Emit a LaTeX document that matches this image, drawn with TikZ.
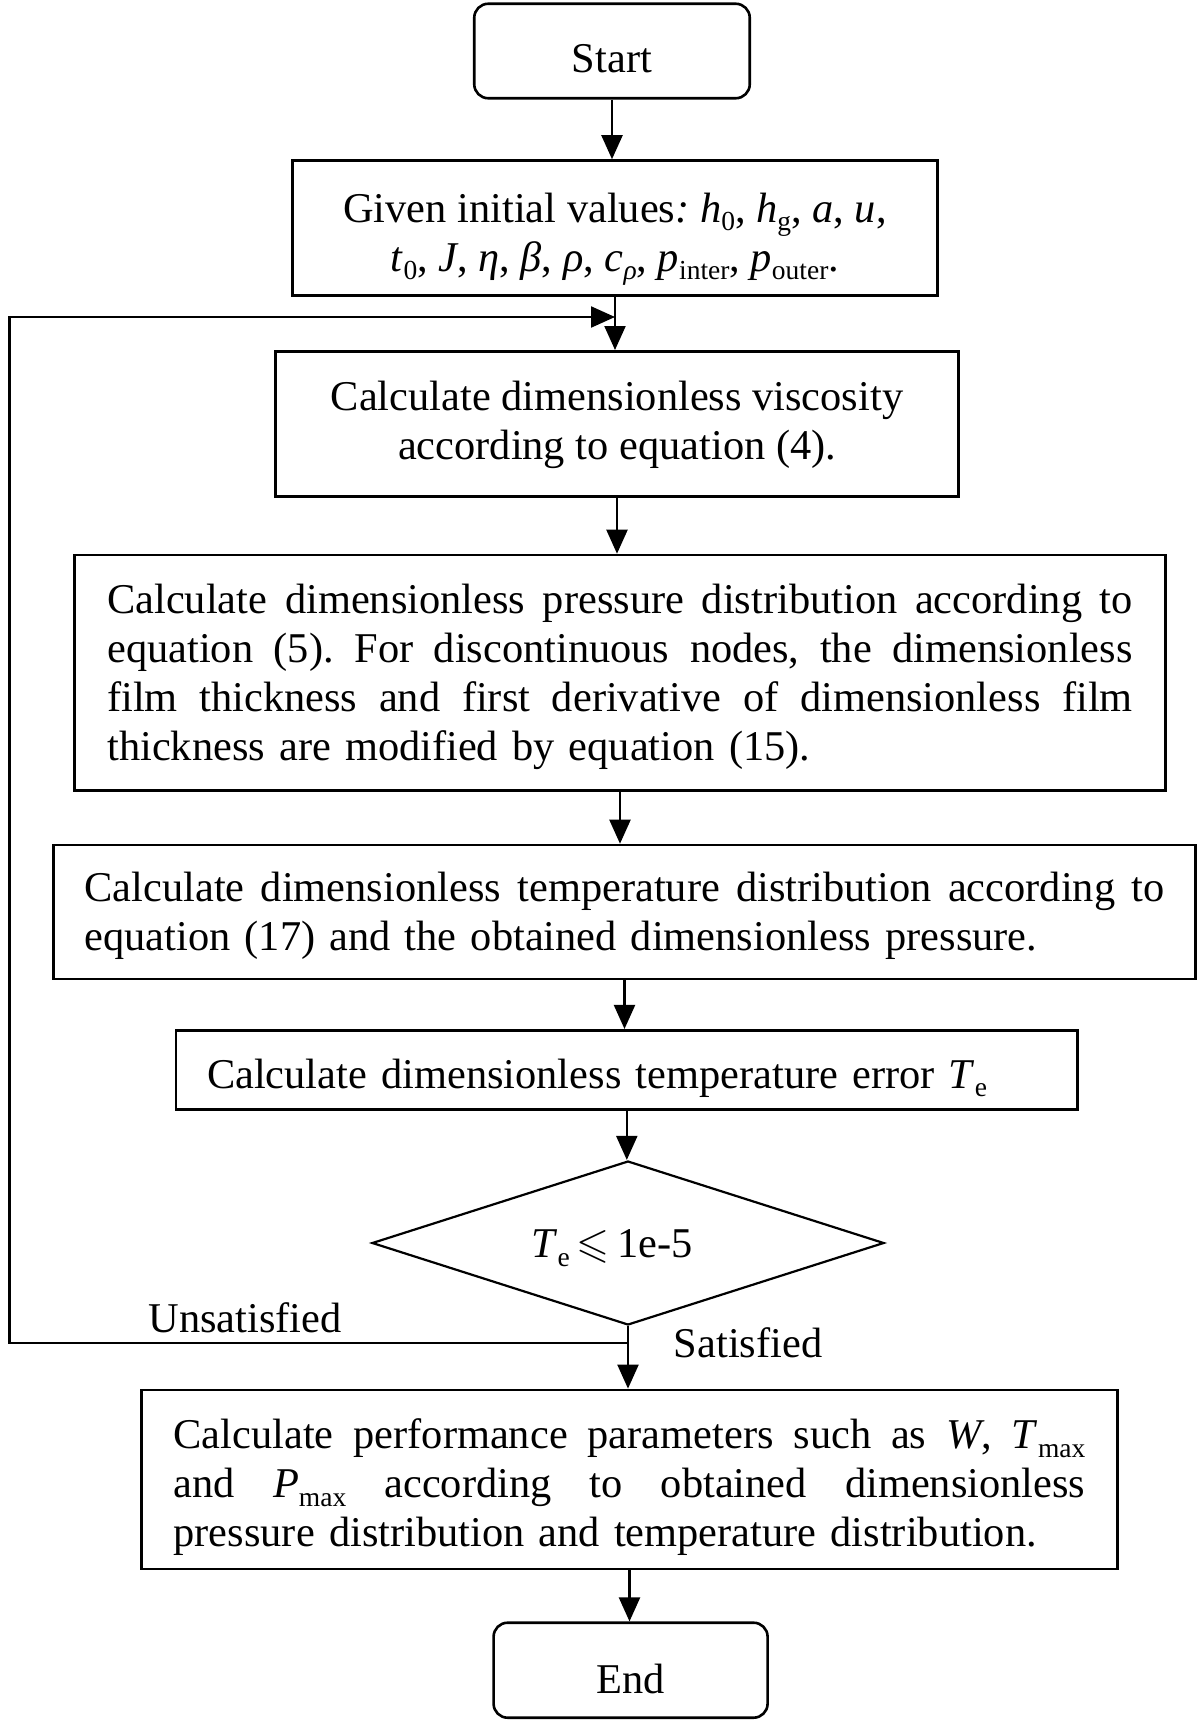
\documentclass[tikz,border=0pt]{standalone}
\usepackage{fontspec}
\setmainfont{Liberation Serif}
\usepackage{amssymb}
\usepackage{graphicx}
\usetikzlibrary{arrows.meta,shapes.geometric}
\newcommand{\sbs}[1]{\raisebox{-0.2em}{\fontsize{27.5}{30}\selectfont #1}}
\newcommand{\jl}[2]{{\spaceskip=0.25em plus 1em minus 0.08em\makebox[#1][s]{#2}}}
\begin{document}
\begin{tikzpicture}[x=1pt,y=-1pt,
  font=\fontsize{42.4}{49}\selectfont\frenchspacing,
  box/.style={draw, line width=2.6pt, inner sep=0pt},
  term/.style={box, rounded corners=14pt},
  txt/.style={inner sep=0pt},
  arr/.style={line width=2.2pt, -{Triangle[length=24pt,width=21pt]}}]
\useasboundingbox (0,0) rectangle (1200,1722);

% boxes
\node[term, minimum width=275.5pt, minimum height=94.5pt] (start) at (612,51) {};
\node[box, minimum width=644.5pt, minimum height=135pt] (given) at (615,228) {};
\node[box, minimum width=683.5pt, minimum height=145.4pt] (visc) at (617,424) {};
\node[box, minimum width=1090.5pt, minimum height=235.6pt] (press) at (620,672.8) {};
\node[box, minimum width=1141.8pt, minimum height=134pt] (temp) at (624.5,912) {};
\node[box, minimum width=901.5pt, minimum height=79.5pt] (te) at (626.8,1070) {};
\node[draw, diamond, line width=2.2pt, minimum width=512pt, minimum height=164pt, inner sep=0pt] (dec) at (628,1243) {};
\node[box, minimum width=975.7pt, minimum height=179pt] (perf) at (629.5,1479.4) {};
\node[term, minimum width=274pt, minimum height=95pt] (end) at (630.6,1670.2) {};

% texts
\node[txt] (startt) at ([yshift=-8pt]start.center) {Start};
\node[txt, align=center] (givent) at ([yshift=-11pt]given.center)
 {Given initial values\textit{:} \textit{h}\sbs{0}, \textit{h}\sbs{g}, \textit{a}, \textit{u},\\
  \textit{t}\sbs{0}, \textit{J}, \textit{η}, \textit{β}, \textit{ρ}, \textit{c}\sbs{\textit{ρ}}, \textit{p}\sbs{inter}, \textit{p}\sbs{outer}.};
\node[txt, align=center] (visct) at ([yshift=-1pt]visc.center)
 {Calculate dimensionless viscosity\\according to equation (4).};
\node[txt, text width=1025.5pt, align=left] (presst) at ([yshift=-4pt]press.center)
 {\jl{1025.5pt}{Calculate dimensionless pressure distribution according to}\\
  \jl{1025.5pt}{equation (5). For discontinuous nodes, the dimensionless}\\
  \jl{1025.5pt}{film thickness and first derivative of dimensionless film}\\
  thickness are modified by equation (15).};
\node[txt, text width=1079.8pt, align=left] (tempt) at ([yshift=-4pt]temp.center)
 {\jl{1079.8pt}{Calculate dimensionless temperature distribution according to}\\
  equation (17) and the obtained dimensionless pressure.};
\node[txt, text width=839.5pt, align=left] (tet) at ([yshift=-8pt]te.center)
 {Calculate dimensionless temperature error \textit{T}\sbs{e}};
\node[txt] (dect) at ([xshift=-16pt,yshift=-5pt]dec.center)
 {\textit{T}\sbs{e}\,\scalebox{4.24}{\fontsize{10}{12}\selectfont$\leqslant$}\,1e-5};
\node[txt, text width=911.7pt, align=left] (perft) at ([yshift=-8pt]perf.center)
 {\jl{911.7pt}{Calculate performance parameters such as \textit{W}, \textit{T}\sbs{max}}\\
  \jl{911.7pt}{and \textit{P}\sbs{max} according to obtained dimensionless}\\
  pressure distribution and temperature distribution.};
\node[txt] (endt) at ([yshift=-9pt]end.center) {End};

\node (unsat) at (245,1318) {Unsatisfied};
\node (sat) at (748,1343) {Satisfied};

\coordinate (c1) at (9.5,1343);
\coordinate (c2) at (9.5,317);

\draw[arr] (start.south) -- (start.south |- given.north);
\draw[arr] (given.south) -- (given.south |- visc.north);
\draw[arr] (visc.south) -- (visc.south |- press.north);
\draw[arr] (press.south) -- (press.south |- temp.north);
\draw[arr] (temp.south) -- (temp.south |- te.north);
\draw[arr] (te.south) -- (te.south |- dec.north);
\draw[arr] (dec.south) -- (dec.south |- perf.north);
\draw[arr] (perf.south) -- (perf.south |- end.north);
\draw[arr] (dec.south |- c1) -- (c1) -- (c2) -- (c2 -| given.south);
\end{tikzpicture}
\end{document}
